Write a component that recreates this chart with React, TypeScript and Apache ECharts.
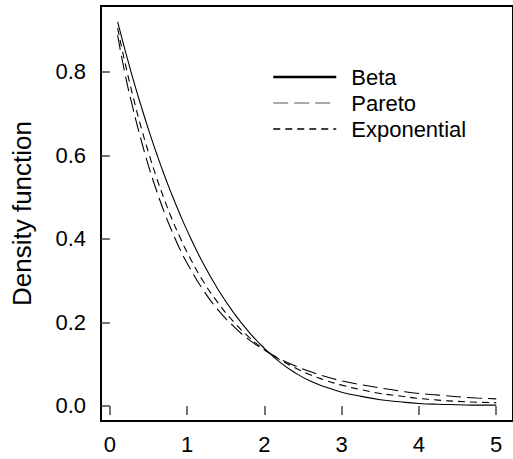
import React, { useEffect, useRef } from "react";
import * as echarts from "echarts";

const xValues = [0.1, 0.2, 0.3, 0.4, 0.5, 0.6, 0.7, 0.8, 0.9, 1.0, 1.2, 1.4, 1.6, 1.8, 2.0, 2.2, 2.4, 2.6, 2.8, 3.0, 3.25, 3.5, 3.75, 4.0, 4.25, 4.5, 4.75, 5.0];
const betaValues = [0.920, 0.850, 0.783, 0.721, 0.662, 0.607, 0.555, 0.507, 0.462, 0.420, 0.344, 0.279, 0.224, 0.177, 0.138, 0.105, 0.079, 0.059, 0.045, 0.033, 0.023, 0.015, 0.010, 0.006, 0.004, 0.003, 0.002, 0.002];
const paretoValues = [0.888, 0.792, 0.712, 0.640, 0.575, 0.518, 0.466, 0.420, 0.378, 0.342, 0.280, 0.230, 0.191, 0.159, 0.134, 0.113, 0.096, 0.082, 0.070, 0.060, 0.051, 0.043, 0.036, 0.030, 0.026, 0.022, 0.019, 0.017];
const expValues = [0.905, 0.819, 0.741, 0.670, 0.607, 0.549, 0.497, 0.449, 0.407, 0.368, 0.301, 0.247, 0.202, 0.165, 0.135, 0.111, 0.091, 0.074, 0.061, 0.050, 0.039, 0.030, 0.024, 0.018, 0.014, 0.011, 0.009, 0.008];
const seriesNames = ["Beta", "Pareto", "Exponential"];
const xTicks = [0, 1, 2, 3, 4, 5];
const yTicks = [0, 0.2, 0.4, 0.6, 0.8];
const yTitle = "Density function";

const FONT = "'Liberation Sans', Arial, Helvetica, sans-serif";

export default function App() {
  const ref = useRef<HTMLDivElement>(null);
  useEffect(() => {
    if (!ref.current) return;
    const chart = echarts.init(ref.current, undefined, { renderer: "svg" });
    const pairs = (ys: number[]) => xValues.map((x, i) => [x, ys[i]]);
    chart.setOption({
      animation: false,
      backgroundColor: "#ffffff",
      color: ["#000", "#000", "#000"],
      textStyle: { fontFamily: FONT },
      grid: {
        left: 101,
        top: 6,
        right: -6,
        bottom: 38,
        show: true,
        borderColor: "#000",
        borderWidth: 2,
        backgroundColor: "transparent",
      },
      legend: {
        orient: "vertical",
        left: 267,
        top: 59,
        itemWidth: 63,
        itemHeight: 26,
        itemGap: 0,
        itemStyle: { opacity: 0 },
        textStyle: { fontFamily: FONT, fontSize: 22, color: "#000", lineHeight: 26, padding: [0, 0, 0, 10] },
        data: [
          { name: seriesNames[0], lineStyle: { width: 2.5, color: "#000" } },
          { name: seriesNames[1], lineStyle: { width: 1, color: "#555" } },
          { name: seriesNames[2], lineStyle: { width: 1.3, color: "#000" } },
        ],
      },
      xAxis: {
        type: "value",
        min: -0.115,
        max: 5.217,
        axisLine: { show: false },
        splitLine: { show: false },
        axisTick: { show: true, length: 9, customValues: xTicks, lineStyle: { color: "#444", width: 1.5 } },
        axisLabel: {
          customValues: xTicks,
          margin: 12,
          fontSize: 22,
          fontFamily: FONT,
          color: "#000",
          formatter: (v: number) => String(v),
        },
      },
      yAxis: {
        type: "value",
        min: -0.036,
        max: 0.958,
        axisLine: { show: false },
        splitLine: { show: false },
        axisTick: { show: true, length: 9, customValues: yTicks, lineStyle: { color: "#444", width: 1.5 } },
        axisLabel: {
          customValues: yTicks,
          margin: 15,
          fontSize: 22,
          fontFamily: FONT,
          color: "#000",
          formatter: (v: number) => v.toFixed(1),
        },
        name: yTitle,
        nameLocation: "middle",
        nameGap: 66,
        nameTextStyle: { fontSize: 26, fontFamily: FONT, color: "#000" },
      },
      series: [
        {
          name: seriesNames[0],
          type: "line",
          data: pairs(betaValues),
          smooth: true,
          symbol: "none",
          itemStyle: { color: "#000" },
          lineStyle: { color: "#000", width: 1.1, type: "solid" },
        },
        {
          name: seriesNames[1],
          type: "line",
          data: pairs(paretoValues),
          smooth: true,
          symbol: "none",
          itemStyle: { color: "#000" },
          lineStyle: { color: "#000", width: 1.1, type: [15, 6] },
        },
        {
          name: seriesNames[2],
          type: "line",
          data: pairs(expValues),
          smooth: true,
          symbol: "none",
          itemStyle: { color: "#000" },
          lineStyle: { color: "#000", width: 1.1, type: [7, 5] },
        },
      ],
    });
    return () => chart.dispose();
  }, []);
  return (
    <div
      ref={ref}
      style={{ position: "absolute", left: 0, top: 0, width: 513, height: 459, overflow: "hidden" }}
    />
  );
}
